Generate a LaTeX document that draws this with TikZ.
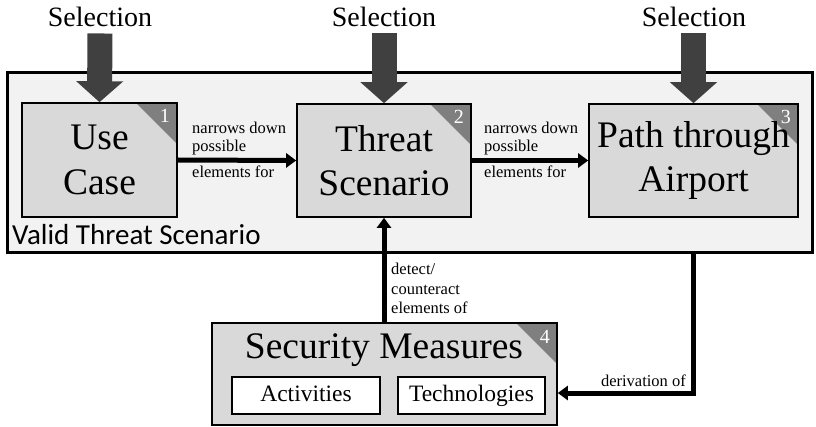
\documentclass[tikz,border=0pt]{standalone}
\usepackage{fontspec}
\setmainfont{Liberation Serif}
\newfontfamily\carlito{Carlito}
\usetikzlibrary{arrows.meta,calc}
\definecolor{contfill}{HTML}{F2F2F2}
\definecolor{boxfill}{HTML}{D9D9D9}
\definecolor{cornerfill}{HTML}{7F7F7F}
\definecolor{selfill}{HTML}{404040}
\begin{document}
\begin{tikzpicture}[x=1pt,y=-1pt,
  container/.style={draw=black,line width=3pt,fill=contfill,inner sep=0pt},
  mainbox/.style={draw=black,line width=1.6pt,fill=boxfill,inner sep=0pt,align=center,
     font=\fontsize{37.5}{44.5}\selectfont,
     path picture={\fill[cornerfill] (path picture bounding box.north east) -- ++(-41,0) -- ++(41,41) -- cycle;}},
  subbox/.style={draw=black,line width=1.6pt,fill=white,inner sep=0pt,text height=16pt,text depth=4pt,font=\fontsize{23.5}{28}\selectfont},
  cornernum/.style={text=white,inner sep=0pt,font=\fontsize{20}{24}\selectfont},
  seltext/.style={inner sep=0pt,font=\fontsize{28}{32}\selectfont},
  selarrow/.style={draw=selfill,line width=25pt,-{Triangle[length=21pt,width=46pt]}},
  conn/.style={draw=black,line width=5pt,-{Triangle[length=10pt,width=14pt]}},
  lbl/.style={inner sep=0pt,align=left,font=\fontsize{16.5}{18}\selectfont}
]
\useasboundingbox (0,0) rectangle (816,427);

% container
\node[container,minimum width=805pt,minimum height=180pt] (vts) at (409.5,163) {};
\node[inner sep=0pt,anchor=base west,font=\carlito\fontsize{29}{34}\selectfont] (vtslbl) at (12,245) {Valid Threat Scenario};

% main boxes
\node[mainbox,minimum width=155pt,minimum height=114pt] (uc) at (99.5,160) {Use\\Case};
\node[mainbox,minimum width=174pt,minimum height=113pt] (ts) at (384,160.5) {Threat\\Scenario};
\node[mainbox,minimum width=209pt,minimum height=113pt] (pa) at (693.5,160.5) {Path through\\Airport};
\node[mainbox,minimum width=345pt,minimum height=102pt] (sm) at (384.5,374) {};
\node[inner sep=0pt,anchor=base,font=\fontsize{37.5}{44.5}\selectfont] (smlbl) at (384,358) {Security Measures};
\node[subbox,minimum width=148pt,minimum height=37pt] (act) at (306,395.5) {Activities};
\node[subbox,minimum width=147pt,minimum height=37pt] (tech) at (471.5,395.5) {Technologies};

% corner numbers
\node[cornernum] (n1) at ($(uc.north east)+(-13,14)$) {1};
\node[cornernum] (n2) at ($(ts.north east)+(-13,14)$) {2};
\node[cornernum] (n3) at ($(pa.north east)+(-13,14)$) {3};
\node[cornernum] (n4) at ($(sm.north east)+(-13,15)$) {4};

% selection arrows
\node[seltext,anchor=base] (s1) at (100,27) {Selection};
\node[seltext,anchor=base] (s2) at (384,27) {Selection};
\node[seltext,anchor=base] (s3) at (694,27) {Selection};
\draw[selarrow] ([yshift=-6pt]s1.south) -- (uc.north);
\draw[selarrow] ([yshift=-6pt]s2.south) -- (ts.north);
\draw[selarrow] ([yshift=-6pt]s3.south -| pa.north) -- (pa.north);

% connectors
\draw[conn] (uc.east) -- (ts.west);
\draw[conn] (pa.west -| ts.east) -- (pa.west);
\draw[conn] (ts.south |- sm.north) -- (ts.south);
\draw[conn] (pa.south |- vts.south) |- ([yshift=-19pt]sm.east);

% labels
\node[lbl,anchor=base west] (l1a) at (192,152) {narrows down\\possible};
\node[lbl,anchor=base west] (l1b) at (192,178) {elements for};
\node[lbl,anchor=base west] (l2a) at (484,152) {narrows down\\possible};
\node[lbl,anchor=base west] (l2b) at (484,178) {elements for};
\node[lbl,anchor=base west,font=\fontsize{16.5}{19.5}\selectfont] (l3) at (391,314) {detect/\\counteract\\elements of};
\node[lbl,anchor=base east] (l4) at (686,386) {derivation of};
\end{tikzpicture}
\end{document}
